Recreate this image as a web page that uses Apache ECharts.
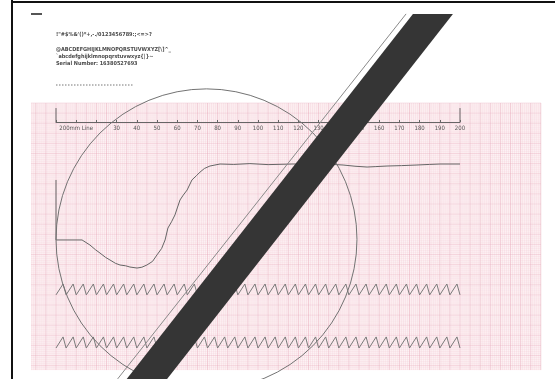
<!DOCTYPE html>
<html><head><meta charset="utf-8">
<script src="https://cdn.jsdelivr.net/npm/echarts/dist/echarts.min.js"></script>
<style>html,body{margin:0;padding:0;background:#fff}#c{width:555px;height:379px}</style>
</head><body><div id="c"></div>
<script>
// ---- data (millimetres on the test paper) ----
const rulerTicks = [0,10,20,30,40,50,60,70,80,90,100,110,120,130,140,150,160,170,180,190,200];
const rulerLabels = ['', '200mm Line', '', '30','40','50','60','70','80','90','100','110','120','130','140','150','160','170','180','190','200'];
const rulerEnds = [0, 200];
const rulerEndTop = 2.5, rulerEndBottom = 9.4;

const waveX = [0, 0, 12.9, 16.8, 19.5, 21.8, 24.5, 26.7, 29.5, 31.7, 34.5, 36.6, 40.1, 42.5, 45.0, 47.8, 50.0, 52.3, 54.0, 55.4, 57.2, 58.9, 60.2, 61.4, 63.0, 64.9, 67.3, 69.5, 71.3, 73.5, 76.2, 81.2, 88, 96.0, 105, 117.3, 128, 135, 142.1, 148, 154.0, 158, 163.9, 171, 178.7, 185, 190.1, 200];
const waveY = [38.1, 67.8, 67.8, 70.3, 72.6, 74.3, 76.4, 77.7, 79.4, 80.2, 80.6, 81.2, 81.7, 81.3, 80.2, 78.4, 75.2, 72.0, 67.8, 61.9, 58.8, 55.4, 51.5, 48.0, 45.6, 43.1, 38.1, 36.0, 34.2, 32.4, 31.2, 30.2, 30.4, 30.0, 30.5, 30.2, 30.4, 30.3, 30.7, 31.3, 31.7, 31.5, 31.2, 31.0, 30.7, 30.4, 30.2, 30.2];

const toothStarts = [0,5,10,15,20,25,30,35,40,45,50,55,60,65,70,75,80,85,90,95,100,105,110,115,120,125,130,135,140,145,150,155,160,165,170,175,180,185,190,195];
const zigRows = [[89.6, 95.0], [115.8, 121.3]]; // [top, bottom]
const toothRise = 3.5; // mm

const circleCenter = [74.5, 67.5];
const circleRadius = 74.5;

const bandPoly = [[176.7, -44.1], [196.5, -44.1], [55.0, 136.6], [35.0, 136.6]];
const thinLine = [[173.3, -44.1], [30.5, 136.6]];

const paperX = [-12.4, 240.1];
const paperY = [0, 132.2];

// ---- build ----
const MMPX = 2.02, OX = 56, OY = 103;
const xMin = -OX / MMPX, xMax = (555 - OX) / MMPX;
const yMin = -OY / MMPX, yMax = (379 - OY) / MMPX;

const wave = waveX.map((x, i) => [x, waveY[i]]);
function zig(row) {
  const pts = [];
  toothStarts.forEach(s => { pts.push([s, row[1]]); pts.push([s + toothRise, row[0]]); });
  pts.push([200, row[1]]);
  return pts;
}

const chart = echarts.init(document.getElementById('c'), null, {renderer: 'canvas'});
const textStyle = {fontFamily: 'DejaVu Sans Condensed', fontWeight: 'bold', fontSize: 5.5, fill: '#4a4a4a'};

chart.setOption({
  animation: false,
  backgroundColor: '#ffffff',
  grid: [
    {left: 0, top: 0, width: 555, height: 379},
    {left: OX, top: 100, width: 200 * MMPX, height: OY + rulerEndBottom * MMPX - 100}
  ],
  xAxis: [
    {gridIndex: 0, type: 'value', min: xMin, max: xMax, show: false},
    {gridIndex: 1, type: 'value', min: 0, max: 200, interval: 10, z: 5,
     axisLine: {show: true, lineStyle: {color: '#666', width: 1}},
     axisTick: {show: true, inside: true, length: 2, lineStyle: {color: '#666'}},
     splitLine: {show: false},
     axisLabel: {show: true, margin: 3, fontSize: 6, color: '#555', fontFamily: 'DejaVu Sans Condensed',
       formatter: v => rulerLabels[rulerTicks.indexOf(v)] || ''}}
  ],
  yAxis: [
    {gridIndex: 0, type: 'value', inverse: true, min: yMin, max: yMax, show: false},
    {gridIndex: 1, type: 'value', show: false}
  ],
  series: [
    { // pink chart paper
      type: 'custom', xAxisIndex: 0, yAxisIndex: 0, z: 1, silent: true,
      data: [[paperX[0], paperY[0], paperX[1], paperY[1]]],
      renderItem(params, api) {
        const p0 = api.coord([paperX[0], paperY[0]]), p1 = api.coord([paperX[1], paperY[1]]);
        const ch = [{type: 'rect', shape: {x: p0[0], y: p0[1], width: p1[0] - p0[0], height: p1[1] - p0[1]}, style: {fill: '#fdf3f5'}}];
        for (let m = Math.ceil(paperX[0]); m <= paperX[1]; m++) {
          const x = api.coord([m, 0])[0];
          const major = m % 5 === 0;
          ch.push({type: 'line', shape: {x1: x, y1: p0[1], x2: x, y2: p1[1]},
            style: {stroke: major ? 'rgba(225,150,168,0.38)' : 'rgba(238,180,195,0.2)', lineWidth: 1}});
        }
        for (let m = Math.ceil(paperY[0]); m <= paperY[1]; m++) {
          const y = api.coord([0, m])[1];
          const major = m % 5 === 0;
          ch.push({type: 'line', shape: {x1: p0[0], y1: y, x2: p1[0], y2: y},
            style: {stroke: major ? 'rgba(228,160,178,0.3)' : 'rgba(240,190,203,0.16)', lineWidth: 1}});
        }
        return {type: 'group', children: ch};
      }
    },
    { // ruler end ticks
      type: 'custom', xAxisIndex: 0, yAxisIndex: 0, z: 4, silent: true,
      data: rulerEnds.map(x => [x, rulerEndTop, rulerEndBottom]),
      renderItem(params, api) {
        const a = api.coord([api.value(0), api.value(1)]), b = api.coord([api.value(0), api.value(2)]);
        return {type: 'line', shape: {x1: a[0], y1: a[1], x2: b[0], y2: b[1]}, style: {stroke: '#666', lineWidth: 1}};
      }
    },
    {type: 'line', xAxisIndex: 0, yAxisIndex: 0, z: 4, data: wave, showSymbol: false, silent: true,
     lineStyle: {color: '#666', width: 1}},
    {type: 'line', xAxisIndex: 0, yAxisIndex: 0, z: 4, data: zig(zigRows[0]), showSymbol: false, silent: true,
     lineStyle: {color: '#7a7a7a', width: 1}},
    {type: 'line', xAxisIndex: 0, yAxisIndex: 0, z: 4, data: zig(zigRows[1]), showSymbol: false, silent: true,
     lineStyle: {color: '#7a7a7a', width: 1}},
    { // circle
      type: 'custom', xAxisIndex: 0, yAxisIndex: 0, z: 6, silent: true,
      data: [[circleCenter[0], circleCenter[1], circleRadius]],
      renderItem(params, api) {
        const c = api.coord([api.value(0), api.value(1)]);
        const r = api.size([api.value(2), 0])[0];
        return {type: 'circle', shape: {cx: c[0], cy: c[1], r: r}, style: {fill: null, stroke: '#737373', lineWidth: 1}};
      }
    },
    {type: 'line', xAxisIndex: 0, yAxisIndex: 0, z: 7, data: thinLine, showSymbol: false, silent: true,
     lineStyle: {color: '#8a8a8a', width: 1}},
    { // black diagonal band
      type: 'custom', xAxisIndex: 0, yAxisIndex: 0, z: 10, silent: true,
      data: [0],
      renderItem(params, api) {
        return {type: 'polygon', shape: {points: bandPoly.map(p => api.coord(p))}, style: {fill: '#353535'}};
      }
    }
  ],
  graphic: [
    {type: 'line', shape: {x1: 12, y1: 2, x2: 555, y2: 2}, style: {stroke: '#111', lineWidth: 2}, z: 20},
    {type: 'line', shape: {x1: 12, y1: 0, x2: 12, y2: 379}, style: {stroke: '#111', lineWidth: 2}, z: 20},
    {type: 'rect', shape: {x: 31, y: 13, width: 11, height: 2}, style: {fill: '#555'}, z: 20},
    {type: 'text', left: 56, top: 32, style: Object.assign({text: '!"#$%&\'()*+,-./0123456789:;<=>?'}, textStyle), z: 20},
    {type: 'text', left: 56, top: 47, style: Object.assign({text: '@ABCDEFGHIJKLMNOPQRSTUVWXYZ[\\]^_'}, textStyle), z: 20},
    {type: 'text', left: 56, top: 54, style: Object.assign({text: '`abcdefghijklmnopqrstuvwxyz{|}~'}, textStyle), z: 20},
    {type: 'text', left: 56, top: 61, style: Object.assign({text: 'Serial Number: 16380527693'}, textStyle), z: 20},
    {type: 'line', shape: {x1: 56, y1: 85, x2: 134, y2: 85}, style: {stroke: '#777', lineWidth: 1, lineDash: [1.5, 1.5]}, z: 20}
  ]
});
</script></body></html>
